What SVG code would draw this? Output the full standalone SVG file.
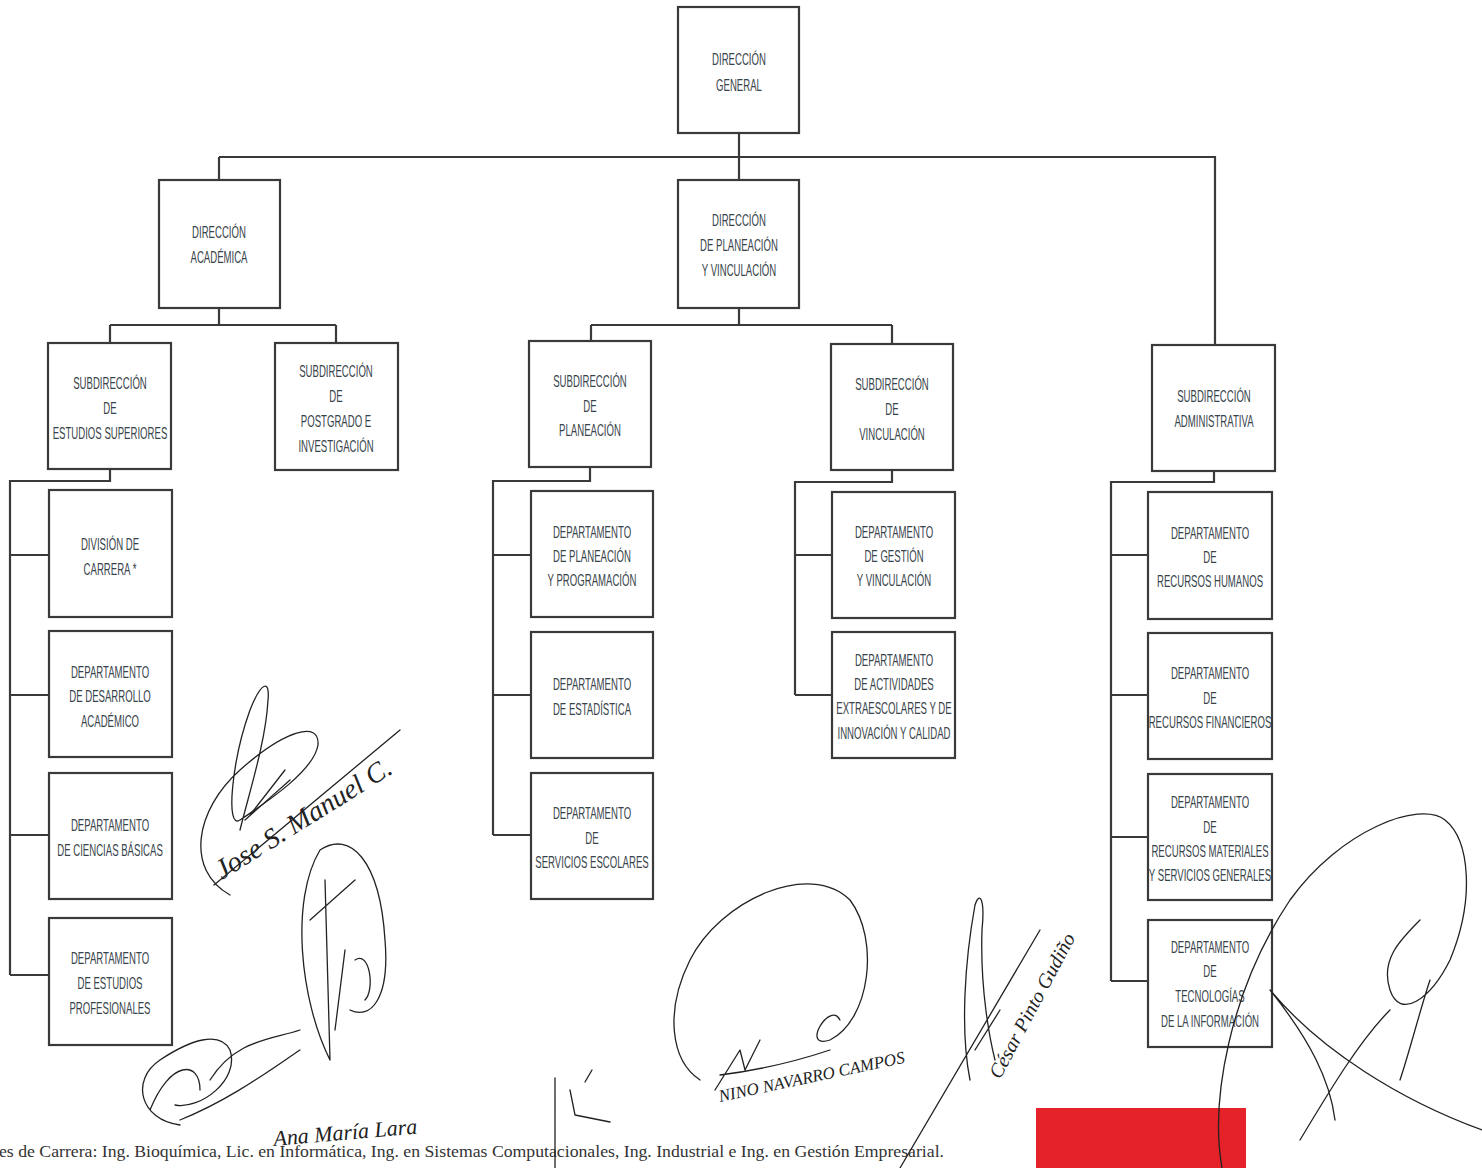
<svg xmlns="http://www.w3.org/2000/svg" width="1482" height="1168" viewBox="0 0 1482 1168">
<style>
.box{fill:#fff;stroke:#3a3a3a;stroke-width:2.2}
.ln{fill:none;stroke:#3a3a3a;stroke-width:2.2}
.t{font-family:"Liberation Sans",Arial,sans-serif;font-size:16px;fill:#37434a;text-anchor:middle}
.sig{fill:none;stroke:#222;stroke-width:1.3;stroke-linecap:round;stroke-linejoin:round}
.hw{font-family:"Liberation Serif",serif;font-style:italic;fill:#222}
.foot{font-family:"Liberation Serif",serif;font-size:16px;fill:#333}
</style>
<rect width="1482" height="1168" fill="#fff"/>
<g id="connectors">
<path class="ln" d="M739,133 V157 M219,157 H1215 V345 M219,157 V180 M739,157 V180"/>
<path class="ln" d="M219,308 V325 M110,325 H336 M110,325 V343 M336,325 V343"/>
<path class="ln" d="M739,308 V325 M591,325 H892 M591,325 V341 M892,325 V344"/>
<path class="ln" d="M110,469 V481 H10 V975 M10,555 H49 M10,695 H49 M10,835 H49 M10,975 H49"/>
<path class="ln" d="M590,467 V481 H493 V835 M493,555 H531 M493,695 H531 M493,835 H531"/>
<path class="ln" d="M892,470 V482 H795 V695 M795,555 H832 M795,695 H832"/>
<path class="ln" d="M1214,471 V482 H1111 V981 M1111,555 H1148 M1111,695 H1148 M1111,837 H1148 M1111,981 H1148"/>
</g>
<g id="n-direccion-general"><rect class="box" x="678" y="7" width="121" height="126"/><text class="t" transform="matrix(0.6 0 0 1 739 65)">DIRECCIÓN</text><text class="t" transform="matrix(0.6 0 0 1 739 91)">GENERAL</text></g>
<g id="n-direccion-academica"><rect class="box" x="159" y="180" width="121" height="128"/><text class="t" transform="matrix(0.6 0 0 1 219 238)">DIRECCIÓN</text><text class="t" transform="matrix(0.6 0 0 1 219 263)">ACADÉMICA</text></g>
<g id="n-direccion-planeacion"><rect class="box" x="678" y="180" width="121" height="128"/><text class="t" transform="matrix(0.6 0 0 1 739 226)">DIRECCIÓN</text><text class="t" transform="matrix(0.6 0 0 1 739 251)">DE PLANEACIÓN</text><text class="t" transform="matrix(0.6 0 0 1 739 276)">Y VINCULACIÓN</text></g>
<g id="n-sub-estudios"><rect class="box" x="48" y="343" width="123" height="126"/><text class="t" transform="matrix(0.6 0 0 1 110 389)">SUBDIRECCIÓN</text><text class="t" transform="matrix(0.6 0 0 1 110 414)">DE</text><text class="t" transform="matrix(0.6 0 0 1 110 439)">ESTUDIOS SUPERIORES</text></g>
<g id="n-sub-postgrado"><rect class="box" x="275" y="343" width="123" height="127"/><text class="t" transform="matrix(0.6 0 0 1 336 377)">SUBDIRECCIÓN</text><text class="t" transform="matrix(0.6 0 0 1 336 402)">DE</text><text class="t" transform="matrix(0.6 0 0 1 336 427)">POSTGRADO E</text><text class="t" transform="matrix(0.6 0 0 1 336 452)">INVESTIGACIÓN</text></g>
<g id="n-sub-planeacion"><rect class="box" x="529" y="341" width="122" height="126"/><text class="t" transform="matrix(0.6 0 0 1 590 387)">SUBDIRECCIÓN</text><text class="t" transform="matrix(0.6 0 0 1 590 412)">DE</text><text class="t" transform="matrix(0.6 0 0 1 590 436)">PLANEACIÓN</text></g>
<g id="n-sub-vinculacion"><rect class="box" x="831" y="344" width="122" height="126"/><text class="t" transform="matrix(0.6 0 0 1 892 390)">SUBDIRECCIÓN</text><text class="t" transform="matrix(0.6 0 0 1 892 415)">DE</text><text class="t" transform="matrix(0.6 0 0 1 892 440)">VINCULACIÓN</text></g>
<g id="n-sub-administrativa"><rect class="box" x="1152" y="345" width="123" height="126"/><text class="t" transform="matrix(0.6 0 0 1 1214 402)">SUBDIRECCIÓN</text><text class="t" transform="matrix(0.6 0 0 1 1214 427)">ADMINISTRATIVA</text></g>
<g id="n-division-carrera"><rect class="box" x="49" y="490" width="123" height="127"/><text class="t" transform="matrix(0.6 0 0 1 110 550)">DIVISIÓN DE</text><text class="t" transform="matrix(0.6 0 0 1 110 575)">CARRERA *</text></g>
<g id="n-desarrollo"><rect class="box" x="49" y="631" width="123" height="126"/><text class="t" transform="matrix(0.6 0 0 1 110 678)">DEPARTAMENTO</text><text class="t" transform="matrix(0.6 0 0 1 110 702)">DE DESARROLLO</text><text class="t" transform="matrix(0.6 0 0 1 110 727)">ACADÉMICO</text></g>
<g id="n-ciencias"><rect class="box" x="49" y="773" width="123" height="126"/><text class="t" transform="matrix(0.6 0 0 1 110 831)">DEPARTAMENTO</text><text class="t" transform="matrix(0.6 0 0 1 110 856)">DE CIENCIAS BÁSICAS</text></g>
<g id="n-estudios-prof"><rect class="box" x="49" y="918" width="123" height="127"/><text class="t" transform="matrix(0.6 0 0 1 110 964)">DEPARTAMENTO</text><text class="t" transform="matrix(0.6 0 0 1 110 989)">DE ESTUDIOS</text><text class="t" transform="matrix(0.6 0 0 1 110 1014)">PROFESIONALES</text></g>
<g id="n-planeacion-prog"><rect class="box" x="531" y="491" width="122" height="126"/><text class="t" transform="matrix(0.6 0 0 1 592 538)">DEPARTAMENTO</text><text class="t" transform="matrix(0.6 0 0 1 592 562)">DE PLANEACIÓN</text><text class="t" transform="matrix(0.6 0 0 1 592 586)">Y PROGRAMACIÓN</text></g>
<g id="n-estadistica"><rect class="box" x="531" y="632" width="122" height="126"/><text class="t" transform="matrix(0.6 0 0 1 592 690)">DEPARTAMENTO</text><text class="t" transform="matrix(0.6 0 0 1 592 715)">DE ESTADÍSTICA</text></g>
<g id="n-servicios-escolares"><rect class="box" x="531" y="773" width="122" height="126"/><text class="t" transform="matrix(0.6 0 0 1 592 819)">DEPARTAMENTO</text><text class="t" transform="matrix(0.6 0 0 1 592 844)">DE</text><text class="t" transform="matrix(0.6 0 0 1 592 868)">SERVICIOS ESCOLARES</text></g>
<g id="n-gestion"><rect class="box" x="832" y="492" width="123" height="126"/><text class="t" transform="matrix(0.6 0 0 1 894 538)">DEPARTAMENTO</text><text class="t" transform="matrix(0.6 0 0 1 894 562)">DE GESTIÓN</text><text class="t" transform="matrix(0.6 0 0 1 894 586)">Y VINCULACIÓN</text></g>
<g id="n-actividades"><rect class="box" x="832" y="632" width="123" height="126"/><text class="t" transform="matrix(0.6 0 0 1 894 666)">DEPARTAMENTO</text><text class="t" transform="matrix(0.6 0 0 1 894 690)">DE ACTIVIDADES</text><text class="t" transform="matrix(0.6 0 0 1 894 714)">EXTRAESCOLARES Y DE</text><text class="t" transform="matrix(0.6 0 0 1 894 739)">INNOVACIÓN Y CALIDAD</text></g>
<g id="n-rh"><rect class="box" x="1148" y="492" width="124" height="127"/><text class="t" transform="matrix(0.6 0 0 1 1210 539)">DEPARTAMENTO</text><text class="t" transform="matrix(0.6 0 0 1 1210 563)">DE</text><text class="t" transform="matrix(0.6 0 0 1 1210 587)">RECURSOS HUMANOS</text></g>
<g id="n-rf"><rect class="box" x="1148" y="633" width="124" height="126"/><text class="t" transform="matrix(0.6 0 0 1 1210 679)">DEPARTAMENTO</text><text class="t" transform="matrix(0.6 0 0 1 1210 704)">DE</text><text class="t" transform="matrix(0.6 0 0 1 1210 728)">RECURSOS FINANCIEROS</text></g>
<g id="n-rm"><rect class="box" x="1148" y="774" width="124" height="126"/><text class="t" transform="matrix(0.6 0 0 1 1210 808)">DEPARTAMENTO</text><text class="t" transform="matrix(0.6 0 0 1 1210 833)">DE</text><text class="t" transform="matrix(0.6 0 0 1 1210 857)">RECURSOS MATERIALES</text><text class="t" transform="matrix(0.6 0 0 1 1210 881)">Y SERVICIOS GENERALES</text></g>
<g id="n-ti"><rect class="box" x="1148" y="920" width="124" height="127"/><text class="t" transform="matrix(0.6 0 0 1 1210 953)">DEPARTAMENTO</text><text class="t" transform="matrix(0.6 0 0 1 1210 977)">DE</text><text class="t" transform="matrix(0.6 0 0 1 1210 1002)">TECNOLOGÍAS</text><text class="t" transform="matrix(0.6 0 0 1 1210 1027)">DE LA INFORMACIÓN</text></g>
<rect x="1036" y="1108" width="210" height="60" fill="#e5222a"/>
<text class="foot" x="-1" y="1157" textLength="945" lengthAdjust="spacingAndGlyphs">es de Carrera: Ing. Bioquímica, Lic. en Informática, Ing. en Sistemas Computacionales, Ing. Industrial  e Ing. en Gestión Empresarial.</text>
<g id="signatures">
<path class="sig" d="M230,895 C185,870 195,810 240,770 C285,730 320,720 318,745 C314,770 270,800 240,820 C225,830 232,760 250,710 C262,680 270,680 268,700 C266,740 250,790 240,830"/>
<path class="sig" d="M214,885 L400,730 M245,820 L290,780 M250,815 L285,770"/>
<text class="hw" font-size="28" transform="translate(222,880) rotate(-32)">Jose S. Manuel C.</text>
<path class="sig" d="M330,1060 C300,1000 290,900 320,850 C350,830 380,860 385,940 C390,1000 370,1020 350,1010 M310,920 L355,880 M325,880 L330,1060 M345,950 L335,1030 M355,960 C370,950 375,990 365,1000"/>
<path class="sig" d="M180,1125 C140,1120 130,1080 160,1060 C190,1040 220,1030 230,1050 C240,1080 200,1110 175,1105 M150,1110 C170,1060 200,1060 200,1090 M210,1080 C235,1040 270,1040 300,1030 M180,1120 C230,1100 270,1070 300,1050"/>
<text class="hw" font-size="22" transform="translate(274,1146) rotate(-5)">Ana María Lara</text>
<path class="sig" d="M555,1078 V1168 M570,1090 L575,1115 L610,1122 M585,1082 L592,1070"/>
<path class="sig" d="M700,1080 C670,1060 665,1010 690,960 C720,900 810,860 850,900 C880,940 870,1020 830,1040 C800,1050 830,1000 840,1020 M720,1075 C760,1070 800,1060 830,1050 M715,1090 L740,1050 L745,1070 L760,1040"/>
<text class="hw" font-size="17" transform="translate(720,1102) rotate(-12)">NINO NAVARRO CAMPOS</text>
<path class="sig" d="M970,1080 C960,1030 965,960 975,905 C980,890 985,900 982,930 C980,990 990,1040 995,1060 M975,1050 L1000,1010 M900,1168 L1040,930"/>
<text class="hw" font-size="20" transform="translate(1000,1080) rotate(-62)">César Pinto Gudiño</text>
<path class="sig" d="M1222,1168 C1210,1100 1230,990 1290,900 C1340,830 1420,800 1445,820 C1470,840 1475,900 1450,960 C1430,1000 1400,1020 1390,990 C1380,960 1400,940 1420,920 M1482,1130 C1400,1100 1320,1050 1270,990 C1310,1040 1330,1080 1335,1120 M1300,1140 C1330,1090 1360,1040 1390,1010 M1400,1080 C1410,1050 1420,1010 1430,980"/>
</g>
</svg>
